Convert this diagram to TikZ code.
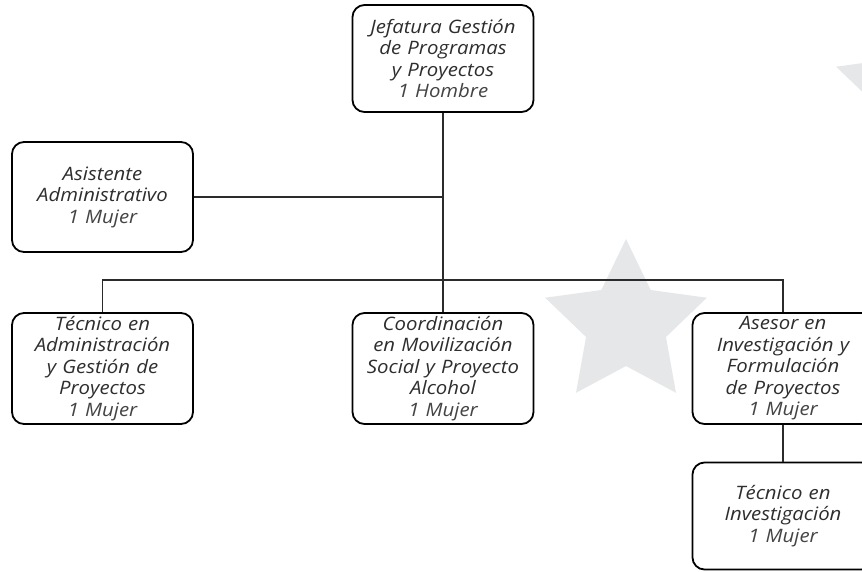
\documentclass[tikz,border=0pt]{standalone}
\usepackage{fontspec}
\setmainfont{Open Sans}[FakeStretch=1.1]
\definecolor{starfill}{HTML}{E6E7E8}
\definecolor{txt}{HTML}{2E2E2E}
\definecolor{txtlight}{HTML}{444444}
\definecolor{linec}{HTML}{2B2B2B}
\tikzset{
  orgbox/.style={draw=black, line width=1.8pt, rounded corners=12pt, minimum width=181pt,
    text width=178pt, align=center, inner sep=0pt, text=txt,
    font=\fontsize{18.5}{21.5}\selectfont\itshape},
  conn/.style={draw=linec, line width=1.2pt},
  starshape/.style={fill=starfill}
}
\newcommand{\cnt}[1]{{\color{txtlight}#1}}
\begin{document}
\begin{tikzpicture}[x=1pt,y=-1pt]
\useasboundingbox (0,0) rectangle (862,571);
\clip (0,0) rectangle (862,571);
\fill[white] (0,0) rectangle (862,571);
% watermark stars
\begin{scope}[shift={(626,324)}]
\fill[starshape] (-90:85) -- (-54:42) -- (-18:85) -- (18:42) -- (54:85) -- (90:42) -- (126:85) -- (162:42) -- (198:85) -- (234:42) -- cycle;
\end{scope}
\begin{scope}[shift={(917,93)}]
\fill[starshape] (-90:85) -- (-54:42) -- (-18:85) -- (18:42) -- (54:85) -- (90:42) -- (126:85) -- (162:42) -- (198:85) -- (234:42) -- cycle;
\end{scope}
% boxes
\node[orgbox, minimum height=107pt] (top) at (443,58.5) {Jefatura Gestión\\de Programas\\y Proyectos\\\cnt{1 Hombre}};
\node[orgbox, minimum height=110pt] (asist) at (102.5,197) {Asistente\\Administrativo\\\cnt{1 Mujer}};
\node[orgbox, minimum height=111pt] (tec1) at (102.5,368.5) {Técnico en\\Administración\\y Gestión de\\Proyectos\\\cnt{1 Mujer}};
\node[orgbox, minimum height=111pt] (coord) at (443,368.5) {Coordinación\\en Movilización\\Social y Proyecto\\Alcohol\\\cnt{1 Mujer}};
\node[orgbox, minimum height=111pt] (asesor) at (783,368.5) {Asesor en\\Investigación y\\Formulación\\de Proyectos\\\cnt{1 Mujer}};
\node[orgbox, minimum height=107pt] (tecinv) at (783,516) {Técnico en\\Investigación\\\cnt{1 Mujer}};
% connectors
\coordinate (bus) at (443,280);
\draw[conn] (top.south) -- (bus);
\draw[conn] (asist.east) -- (asist.east -| top.south);
\draw[conn] (tec1.north) -- (tec1.north |- bus) -- (asesor.north |- bus) -- (asesor.north);
\draw[conn] (coord.north) -- (bus);
\draw[conn] (asesor.south) -- (tecinv.north);
\end{tikzpicture}
\end{document}
